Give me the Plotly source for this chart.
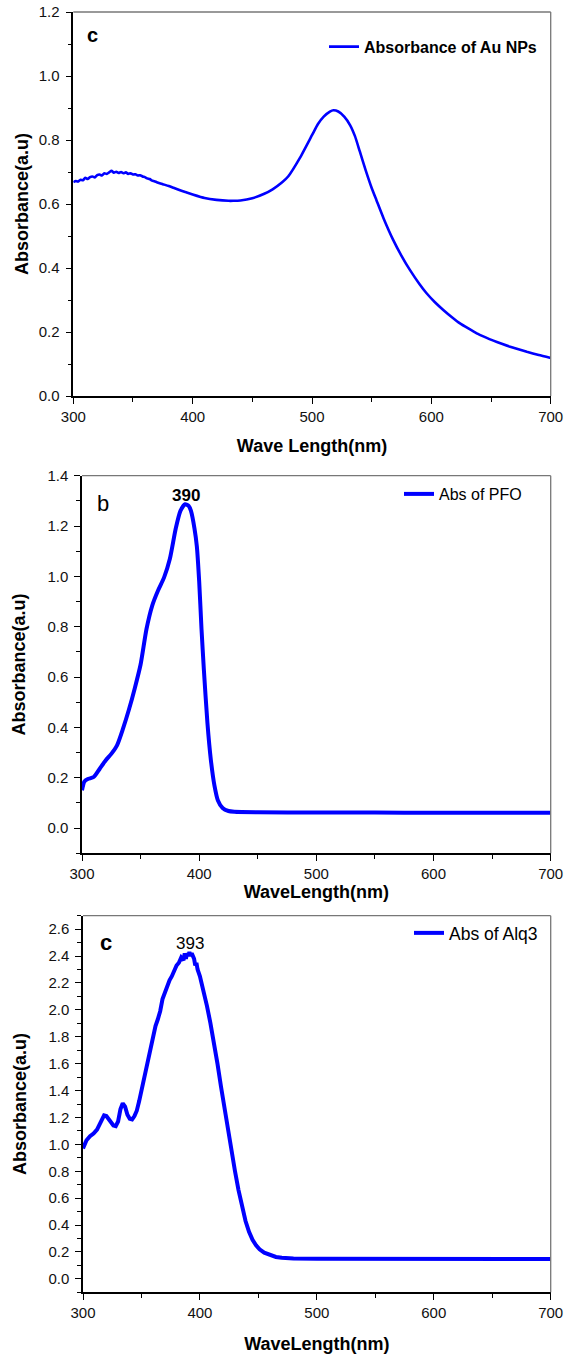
import plotly.graph_objects as go

# ---------------- data ----------------
wl_au = [300, 302, 304, 306, 308, 310, 312, 314, 316, 318, 320, 322, 324, 326, 328, 330,
         332, 334, 336, 338, 340, 342, 344, 346, 348, 350, 352, 354, 356, 358, 360, 362,
         364, 366, 368, 370, 375, 380, 385, 390, 395, 400, 410, 420, 430, 434, 440, 450,
         460, 467, 475, 480, 490, 500, 505, 510, 515, 518, 522, 527, 532, 536, 540, 545,
         550, 554, 560, 568, 575, 582, 590, 596, 603, 610, 617, 624, 631, 638, 645, 652,
         659, 666, 673, 680, 690, 700]
abs_au = [0.668, 0.672, 0.670, 0.676, 0.674, 0.682, 0.678, 0.684, 0.686, 0.683, 0.690, 0.692,
          0.689, 0.696, 0.694, 0.699, 0.704, 0.698, 0.701, 0.697, 0.700, 0.696, 0.699, 0.694,
          0.696, 0.692, 0.693, 0.689, 0.690, 0.686, 0.684, 0.680, 0.678, 0.673, 0.671, 0.668,
          0.662, 0.656, 0.649, 0.642, 0.636, 0.630, 0.619, 0.613, 0.610, 0.610, 0.611, 0.618,
          0.632, 0.646, 0.668, 0.686, 0.745, 0.815, 0.850, 0.874, 0.889, 0.893, 0.889, 0.873,
          0.846, 0.812, 0.765, 0.705, 0.650, 0.612, 0.555, 0.488, 0.438, 0.394, 0.350, 0.321,
          0.293, 0.269, 0.247, 0.227, 0.211, 0.196, 0.184, 0.173, 0.163, 0.154, 0.146, 0.138,
          0.128, 0.119]

wl_pfo = [300, 302, 305, 310, 315, 320, 325, 330, 335, 340, 345, 350, 355, 360, 365, 370,
          375, 380, 384, 388, 391, 393, 396, 398, 400, 402, 404, 407, 410, 413, 416, 420,
          425, 430, 450, 500, 550, 600, 650, 700]
abs_pfo = [0.150, 0.185, 0.195, 0.203, 0.235, 0.268, 0.295, 0.330, 0.395, 0.470, 0.555, 0.650,
           0.790, 0.885, 0.945, 0.995, 1.070, 1.190, 1.260, 1.287, 1.280, 1.260, 1.190, 1.120,
           0.980, 0.790, 0.630, 0.420, 0.270, 0.170, 0.110, 0.080, 0.068, 0.065, 0.063, 0.062,
           0.062, 0.061, 0.061, 0.061]

wl_alq = [300, 303, 306, 309, 312, 315, 318, 320, 323, 326, 328, 330, 332, 334, 336, 338,
          340, 342, 344, 346, 348, 350, 353, 356, 358, 360, 362, 364, 366, 368, 370, 372,
          374, 376, 378, 380, 382, 384, 386, 387, 388, 389, 390, 391, 392, 393, 395, 396,
          397, 398, 400, 403, 406, 409, 412, 415, 418, 421, 424, 427, 430, 433, 436, 439,
          442, 445, 448, 451, 455, 460, 465, 470, 480, 500, 550, 600, 650, 700]
abs_alq = [0.970, 1.030, 1.060, 1.080, 1.110, 1.170, 1.215, 1.210, 1.170, 1.140, 1.135, 1.170,
           1.260, 1.305, 1.280, 1.220, 1.190, 1.185, 1.210, 1.250, 1.320, 1.400, 1.500, 1.650,
           1.730, 1.780, 1.880, 1.930, 1.990, 2.080, 2.130, 2.160, 2.220, 2.250, 2.300, 2.330,
           2.350, 2.390, 2.370, 2.420, 2.380, 2.420, 2.400, 2.430, 2.400, 2.420, 2.380, 2.330,
           2.350, 2.300, 2.250, 2.150, 2.030, 1.900, 1.760, 1.600, 1.430, 1.270, 1.090, 0.950,
           0.800, 0.660, 0.540, 0.430, 0.350, 0.290, 0.250, 0.220, 0.195, 0.175, 0.163, 0.157,
           0.152, 0.150, 0.149, 0.149, 0.148, 0.148]

x_ticks = [300, 400, 500, 600, 700]

W, H = 565, 1355
FONT = "Liberation Sans, Arial, sans-serif"
BLUE = "#0000FF"


def px_x(p):
    return p / W


def px_y(p):
    return 1 - p / H


fig = go.Figure()
fig.add_trace(go.Scatter(x=wl_au, y=abs_au, mode="lines", name="<b>Absorbance of Au NPs</b>",
                         line=dict(color=BLUE, width=2.6, shape="spline", smoothing=0.5),
                         xaxis="x", yaxis="y", legend="legend"))
fig.add_trace(go.Scatter(x=wl_pfo, y=abs_pfo, mode="lines", name="Abs of PFO",
                         line=dict(color=BLUE, width=4, shape="spline", smoothing=0.6),
                         xaxis="x2", yaxis="y2", legend="legend2"))
fig.add_trace(go.Scatter(x=wl_alq, y=abs_alq, mode="lines", name="Abs of Alq3",
                         line=dict(color=BLUE, width=4), xaxis="x3", yaxis="y3", legend="legend3"))

panels = [
    # (xdom, ydom, yrange, xtitle)
    ((73.3, 550.7), (12, 396), [0, 1.2], "Wave Length(nm)"),
    ((82, 550.7), (475.7, 853.3), [-0.1, 1.4], "WaveLength(nm)"),
    ((83, 550.7), (915.7, 1292.3), [-0.1, 2.7], "WaveLength(nm)"),
]

axis_common = dict(showgrid=False, zeroline=False, showline=True, linecolor="black", linewidth=1.5,
                   ticks="outside", ticklen=6, tickwidth=1.2, tickcolor="black", automargin=False,
                   tickfont=dict(family=FONT, size=15, color="#111"))

layout = dict(width=W, height=H, autosize=False, margin=dict(l=0, r=0, t=0, b=0, autoexpand=False),
              paper_bgcolor="white", plot_bgcolor="white", showlegend=True)

ystandoffs = [5, 17, 17]
xstandoffs = [16, 0, 17]
for i, (xd, yd, yr, xt) in enumerate(panels):
    sfx = "" if i == 0 else str(i + 1)
    layout["xaxis" + sfx] = dict(
        axis_common, domain=[px_x(xd[0]), px_x(xd[1])], range=[300, 700],
        tickvals=x_ticks, anchor="y" + sfx, ticklabelstandoff=0,
        minor=dict(ticks="outside", ticklen=4, tickwidth=1.2, tickcolor="black", dtick=50, tick0=300),
        title=dict(text="<b>%s</b>" % xt, font=dict(family=FONT, size=18, color="black"),
                   standoff=xstandoffs[i]))
    layout["yaxis" + sfx] = dict(
        axis_common, domain=[px_y(yd[1]), px_y(yd[0])], range=yr, dtick=0.2, tick0=0,
        tickformat=".1f", anchor="x" + sfx, ticklabelstandoff=3,
        minor=dict(ticks="outside", ticklen=4, tickwidth=1.2, tickcolor="black", dtick=0.1, tick0=0),
        title=dict(text="<b>Absorbance(a.u)</b>", font=dict(family=FONT, size=18, color="black"),
                   standoff=ystandoffs[i]))

# legends
leg_common = dict(xanchor="left", yanchor="middle", bgcolor="rgba(0,0,0,0)")
layout["legend"] = dict(leg_common, x=px_x(324), y=px_y(46.7),
                        font=dict(family=FONT, size=16, color="black"))
layout["legend2"] = dict(leg_common, x=px_x(399), y=px_y(494),
                         font=dict(family=FONT, size=16, color="black"))
layout["legend3"] = dict(leg_common, x=px_x(409), y=px_y(933),
                         font=dict(family=FONT, size=17.5, color="black"))

fig.update_layout(**layout)

# gray top / right frame lines
shapes = []
for sfx in ["", "2", "3"]:
    xr, yr_ = "x%s domain" % sfx, "y%s domain" % sfx
    shapes.append(dict(type="line", xref=xr, yref=yr_, x0=0, x1=1, y0=1, y1=1,
                       line=dict(color="#777", width=1.3)))
    shapes.append(dict(type="line", xref=xr, yref=yr_, x0=1, x1=1, y0=0, y1=1,
                       line=dict(color="#777", width=1.3)))
fig.update_layout(shapes=shapes)

# panel letters and peak labels
ann_common = dict(xref="paper", yref="paper", showarrow=False, xanchor="center", yanchor="middle")
fig.add_annotation(ann_common, text="<b>c</b>", x=px_x(92), y=px_y(35),
                   font=dict(family=FONT, size=20, color="black"))
fig.add_annotation(ann_common, text="b", x=px_x(103), y=px_y(503),
                   font=dict(family=FONT, size=22, color="black"))
fig.add_annotation(ann_common, text="<b>c</b>", x=px_x(106), y=px_y(942),
                   font=dict(family=FONT, size=22, color="black"))
fig.add_annotation(text="<b>390</b>", x=388.6, y=1.323, xref="x2", yref="y2",
                   xanchor="center", yanchor="middle",
                   showarrow=False, font=dict(family=FONT, size=17, color="black"))
fig.add_annotation(text="393", x=391.3, y=2.49, xref="x3", yref="y3",
                   xanchor="center", yanchor="middle",
                   showarrow=False, font=dict(family=FONT, size=17, color="black"))

fig.write_html("out.html", config={"displayModeBar": False},
               post_script="document.body.style.margin='0px';document.body.style.overflow='hidden';")
